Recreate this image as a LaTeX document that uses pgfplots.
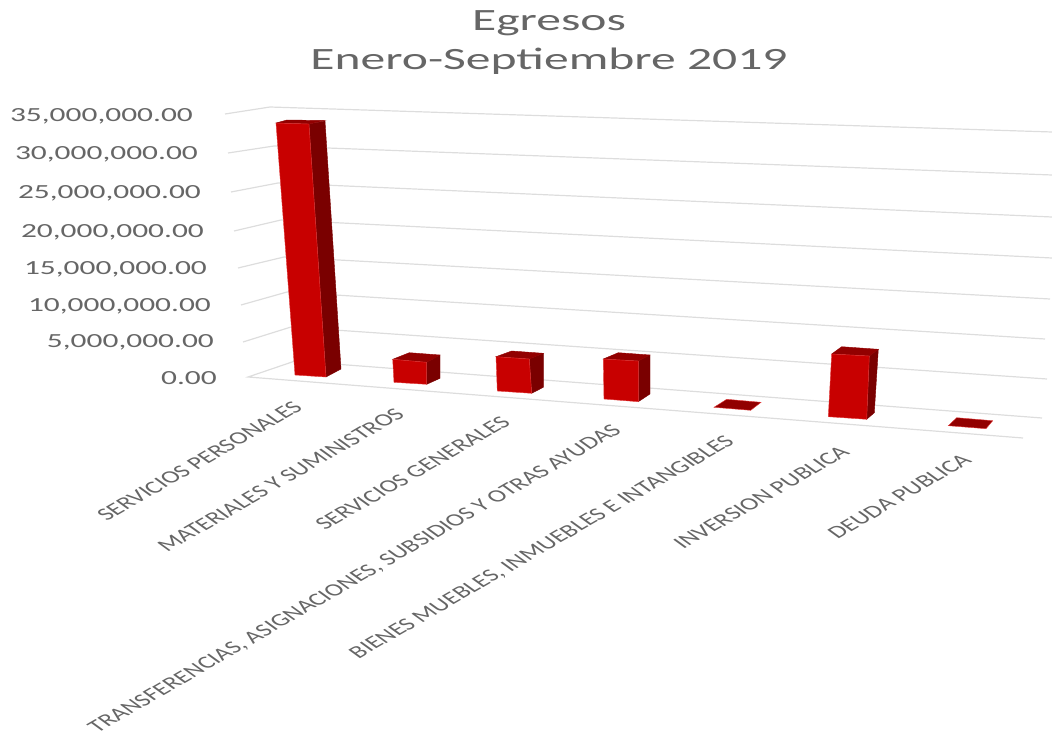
\documentclass[border=0pt]{standalone}
\usepackage{fontspec}
\setmainfont{Carlito}
\usepackage{graphicx}
\usepackage{pgfplots}
\pgfplotsset{compat=1.18}
\definecolor{barfront}{HTML}{C80000}
\definecolor{barside}{HTML}{7A0000}
\definecolor{bartop}{HTML}{920000}
\definecolor{baredge}{HTML}{E23A3A}
\definecolor{gridc}{HTML}{DDDDDD}
\definecolor{txt}{HTML}{666666}
\newcommand{\ylab}[3]{\node[anchor=east,inner sep=0pt,text=txt,font=\fontsize{20}{24}\selectfont] at (axis cs:#1,#2) {\scalebox{1.57}[1]{#3}};}
\newcommand{\xlab}[3]{\node[anchor=north east,inner sep=0pt,text=txt,font=\fontsize{17.6}{21}\selectfont] at (axis cs:#1,#2) {\scalebox{1.55}[1]{\rotatebox{41.7}{#3}}};}
\begin{document}
\begin{tikzpicture}
\path[use as bounding box] (0,0) rectangle (1052pt,738pt);
\begin{axis}[
  scale only axis, width=1052pt, height=738pt,
  xmin=0, xmax=1052, ymin=0, ymax=738, y dir=reverse,
  axis lines=none, clip=false,
]
% gridlines: side wall and back wall
\pgfplotsset{gl/.style={draw=gridc,line width=1.2pt}}
\addplot[gl] coordinates {(225,114) (270,107) (1052,132)};
\addplot[gl] coordinates {(228,153) (274,146) (1052,175)};
\addplot[gl] coordinates {(231,192) (278,183) (1052,217)};
\addplot[gl] coordinates {(234,231) (281,220) (1052,258)};
\addplot[gl] coordinates {(238,268) (284,257) (1050,299)};
\addplot[gl] coordinates {(241,305) (287,292) (1045,339)};
\addplot[gl] coordinates {(243,342) (291,327) (1047,379)};
\addplot[gl] coordinates {(295,361) (248,377) (1023,438)};
\addplot[gl] coordinates {(295,361) (1042,418)};
% bars: side, top, front
\pgfplotsset{
  fs/.style={fill=barside,draw=barside,line width=.4pt},
  ft/.style={fill=bartop,draw=bartop,line width=.4pt},
  ff/.style={fill=barfront,draw=baredge,line width=.4pt}}
% SERVICIOS PERSONALES
\addplot[fs] coordinates {(309,124) (325,121) (341,369) (326,377)} -- cycle;
\addplot[ft] coordinates {(276,123) (287,120) (325,120.5) (309,124)} -- cycle;
\addplot[ff] coordinates {(276,123) (309,124) (326,377) (295,375)} -- cycle;
% MATERIALES Y SUMINISTROS
\addplot[fs] coordinates {(426.7,362.3) (440,355) (440,378.3) (426.7,384.3)} -- cycle;
\addplot[ft] coordinates {(392.7,359.3) (409.3,352.7) (440,355) (426.7,362.3)} -- cycle;
\addplot[ff] coordinates {(392.7,359.3) (426.7,362.3) (426.7,384.3) (394,382.3)} -- cycle;
% SERVICIOS GENERALES
\addplot[fs] coordinates {(529.3,359) (543.3,353.3) (543.3,387.3) (531.7,393.3)} -- cycle;
\addplot[ft] coordinates {(496,356.7) (511.7,351) (543.3,353.3) (529.3,359)} -- cycle;
\addplot[ff] coordinates {(496,356.7) (529.3,359) (531.7,393.3) (497.3,391)} -- cycle;
% TRANSFERENCIAS
\addplot[fs] coordinates {(638.3,361) (650,355) (650,394) (638.3,401.7)} -- cycle;
\addplot[ft] coordinates {(603.3,359) (618.3,352.7) (650,355) (638.3,361)} -- cycle;
\addplot[ff] coordinates {(603.3,359) (638.3,361) (638.3,401.7) (604,399)} -- cycle;
% BIENES MUEBLES
\addplot[fill=bartop,draw=baredge,line width=.4pt] coordinates {(714,407.3) (726.7,399.3) (761,402.3) (750.7,410.3)} -- cycle;
% INVERSION PUBLICA
\addplot[fs] coordinates {(869.3,356) (878.3,349.3) (874.3,412.7) (866.7,419.3)} -- cycle;
\addplot[ft] coordinates {(831.7,354) (841.7,346.7) (878.3,349.3) (869.3,356)} -- cycle;
\addplot[ff] coordinates {(831.7,354) (869.3,356) (866.7,419.3) (828.3,416.7)} -- cycle;
% DEUDA PUBLICA
\addplot[fill=bartop,draw=baredge,line width=.4pt] coordinates {(948.3,425.7) (956.7,417.7) (992.7,420.7) (986,428.7)} -- cycle;
% value labels
\ylab{193}{116}{35,000,000.00}
\ylab{198}{154}{30,000,000.00}
\ylab{201}{193.5}{25,000,000.00}
\ylab{204}{232}{20,000,000.00}
\ylab{207}{269}{15,000,000.00}
\ylab{211}{306.5}{10,000,000.00}
\ylab{214}{342}{5,000,000.00}
\ylab{217}{378}{0.00}
% category labels
\xlab{304}{400}{SERVICIOS PERSONALES}
\xlab{406}{407}{MATERIALES Y SUMINISTROS}
\xlab{512}{415}{SERVICIOS GENERALES}
\xlab{625}{423}{TRANSFERENCIAS, ASIGNACIONES, SUBSIDIOS Y OTRAS AYUDAS}
\xlab{738}{434}{BIENES MUEBLES, INMUEBLES E INTANGIBLES}
\xlab{851}{445}{INVERSION PUBLICA}
\xlab{973}{453}{DEUDA PUBLICA}
% title
\node[text=txt,inner sep=0pt,font=\fontsize{31}{36}\selectfont] at (axis cs:549,23) {\scalebox{1.6}[1]{Egresos}};
\node[text=txt,inner sep=0pt,font=\fontsize{31}{36}\selectfont] at (axis cs:549,61) {\scalebox{1.6}[1]{Enero-Septiembre 2019}};
\end{axis}
\end{tikzpicture}
\end{document}
